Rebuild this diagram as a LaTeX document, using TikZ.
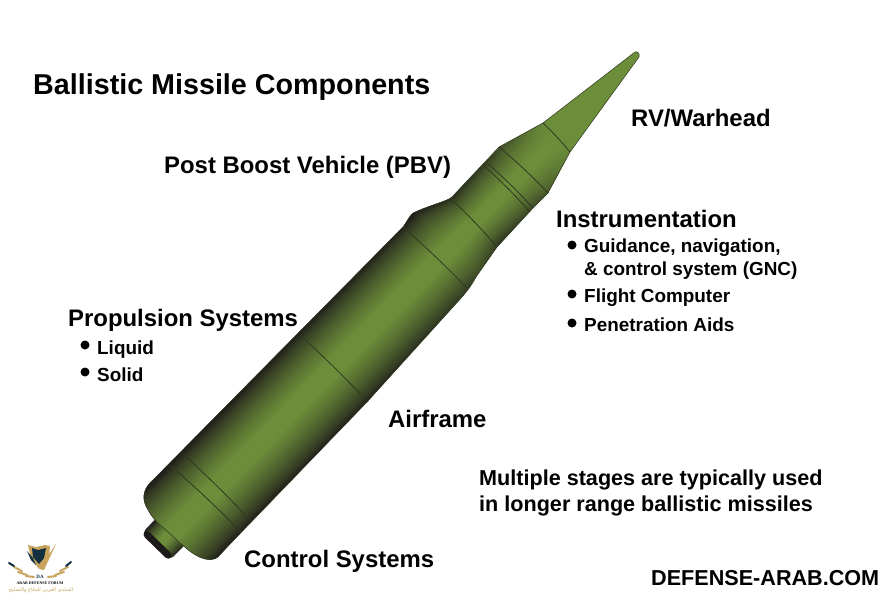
\documentclass[tikz,border=0pt]{standalone}
\usepackage{fontspec}
\setmainfont{Liberation Sans}
\newfontfamily\arabicfont[Script=Arabic]{DejaVu Sans}
\newfontfamily\logofont{Liberation Serif}
\TeXXeTstate=1
\definecolor{mgreen}{HTML}{6C8E3A}
\definecolor{mdark}{HTML}{1E1A1A}
\definecolor{mline}{HTML}{2E3820}
\definecolor{gold}{HTML}{C8A45C}
\definecolor{navy}{HTML}{12303F}
\colorlet{edgecol}{mdark}
\pgfdeclareverticalshading[edgecol]{edgeshade}{100bp}{
  color(0bp)=(edgecol);
  color(25bp)=(edgecol);
  color(29bp)=(edgecol!70!mgreen);
  color(34bp)=(edgecol!45!mgreen);
  color(40bp)=(edgecol!20!mgreen);
  color(46bp)=(mgreen);
  color(54bp)=(mgreen);
  color(60bp)=(edgecol!20!mgreen);
  color(66bp)=(edgecol!45!mgreen);
  color(71bp)=(edgecol!70!mgreen);
  color(75bp)=(edgecol);
  color(100bp)=(edgecol)}
\tikzset{
  lab/.style={font=\bfseries\fontsize{23.9}{28}\selectfont,anchor=base west,inner sep=0pt,text=black},
  item/.style={font=\bfseries\fontsize{18.9}{22}\selectfont,anchor=base west,inner sep=0pt,text=black},
  note/.style={font=\bfseries\fontsize{21.6}{25}\selectfont,anchor=base west,inner sep=0pt,text=black},
  dot/.style={circle,fill=black,inner sep=0pt,minimum size=9pt},
  ringline/.style={draw=mline,line width=0.8pt},
  feather/.style={line width=2pt,line cap=round,draw=gold},
  feathertip/.style={line width=2pt,line cap=round,draw=navy},
}
\def\mpath{(150,483) .. controls (143,490) and (142,500) .. (147,508)
  .. controls (150,514) and (153,518) .. (157,522)
  -- (187,549) .. controls (198,558) and (210,563) .. (218,557)
  -- (230,544) -- (367,402) -- (462,297) .. controls (468,290) and (471,286) .. (476,277)
  -- (497,247) -- (533,208) -- (548,193) -- (570,152)
  -- (639,57) .. controls (640,54) and (638,51) .. (635,52)
  -- (543,123) -- (499,147) -- (452,197) .. controls (448,201) and (430,205) .. (413,213)
  .. controls (410,215) and (406,223) .. (403,227) -- cycle}
\begin{document}
\begin{tikzpicture}[x=1pt,y=-1pt]
\useasboundingbox[fill=white] (0,0) rectangle (888,596);
% nozzle
\begin{scope}[transform canvas={shift={(182pt,-522pt)},rotate=45.74}]
  \colorlet{edgecol}{mdark}
  \shade[shading=edgeshade,rounded corners=6pt] (-36pt,-18pt) rectangle (-5pt,21pt);
  \fill[mdark,rounded corners=4pt] (-37pt,-17pt) rectangle (-30pt,20pt);
\end{scope}
% missile body
\begin{scope}
\clip \mpath;
\fill[mgreen] (0,0) rectangle (888,596);
\begin{scope}[transform canvas={shift={(182pt,-522pt)},rotate=45.74}]
  \colorlet{edgecol}{mdark}
  \shade[shading=edgeshade] (-30pt,-50pt) rectangle (377pt,50pt);
  \foreach \s in {376,380,...,540}{
    \edef\hw{\fpeval{\s<384 ? 50 : (\s<419 ? 50-(\s-384)*16/35 : (\s<489 ? 34 : 34-(\s-489)*14/49))}}
    \edef\d{\fpeval{round(\s<420 ? 100-(\s-376)*15/44 : (\s<480 ? 85-(\s-420)*20/60 : max(0,65-(\s-480)*65/60)),0)}}
    \colorlet{edgecol}{mdark!\d!mgreen}
    \shade[shading=edgeshade] (\s pt,-\hw pt) rectangle (\s pt+4.4pt,\hw pt);
  }
\end{scope}
\end{scope}
% outline
\draw[mline,line width=0.5pt] \mpath;
% rings
\draw[ringline] (182,453) to[bend left=2] (252,522);
\draw[ringline] (170,465) to[bend left=2] (241,532);
\draw[ringline] (300,335) to[bend left=2] (368,402);
\draw[ringline] (403,227) to[bend left=2] (467,288);
\draw[ringline] (450,198) to[bend left=3] (497,247);
\draw[ringline] (483,165) to[bend left=3] (530,212);
\draw[ringline] (487,163) to[bend left=3] (533,208);
\draw[ringline] (499,147) to[bend left=3] (548,193);
\draw[ringline] (543,123) to[bend left=3] (570,152);
% labels
\node[lab,font=\bfseries\fontsize{28.7}{32}\selectfont] (title) at (33,95) {Ballistic Missile Components};
\node[lab] (pbv) at (164,174) {Post Boost Vehicle (PBV)};
\node[lab] (rv) at (631,127) {RV/Warhead};
\node[lab] (inst) at (556,227) {Instrumentation};
\node[dot] (d1) at (572,245) {};
\node[item] (i1) at (584,252) {Guidance, navigation,};
\node[item] (i1b) at (584,275) {\& control system (GNC)};
\node[dot] (d2) at (572,294) {};
\node[item] (i2) at (584,302) {Flight Computer};
\node[dot] (d3) at (572,323) {};
\node[item] (i3) at (584,331) {Penetration Aids};
\node[lab] (prop) at (68,326) {Propulsion Systems};
\node[dot] (d4) at (85,345) {};
\node[item] (l1) at (97,354) {Liquid};
\node[dot] (d5) at (85,372) {};
\node[item] (l2) at (97,381) {Solid};
\node[lab] (air) at (388,427) {Airframe};
\node[lab] (ctrl) at (244,567) {Control Systems};
\node[note] (m1) at (479,485) {Multiple stages are typically used};
\node[note] (m2) at (479,511) {in longer range ballistic missiles};
\node[note] (web) at (651,585) {DEFENSE-ARAB.COM};
% logo
\fill[gold] (28,545) -- (36,547) -- (45,545) -- (50,546) -- (49,558) -- (39,569) -- (31,558) -- cycle;
\fill[navy] (32,548) -- (38,550) -- (46,548) -- (44,558) -- (39,564) -- (33,557) -- cycle;
\fill[gold] (39,569) -- (56,544) -- (44,570) -- cycle;
\fill[navy] (27,551) -- (33,558) -- (36,565) -- (31,560) -- cycle;
\draw[feather] (14,567) -- (22,571);
\draw[feather] (18,572) -- (27,575);
\draw[feather] (26,576) -- (34,577);
\draw[feathertip] (9,563) -- (14,566);
\draw[feather] (68,567) -- (60,571);
\draw[feather] (64,572) -- (55,575);
\draw[feather] (56,576) -- (48,577);
\draw[feathertip] (71,562) -- (66,566);
\node[font=\logofont\bfseries\fontsize{5}{5}\selectfont,text=navy,inner sep=0pt] (da) at (40,577) {DA};
\node[font=\logofont\bfseries\fontsize{4}{5}\selectfont,text=black!80!navy,inner sep=0pt] (lg1) at (40,583.5) {ARAB DEFENSE FORUM};
\node[font=\arabicfont\fontsize{5}{6}\selectfont,text=gold,inner sep=0pt] (lg2) at (41,590) {\beginR المنتدى العربي للدفاع والتسليح\endR};
\end{tikzpicture}
\end{document}
